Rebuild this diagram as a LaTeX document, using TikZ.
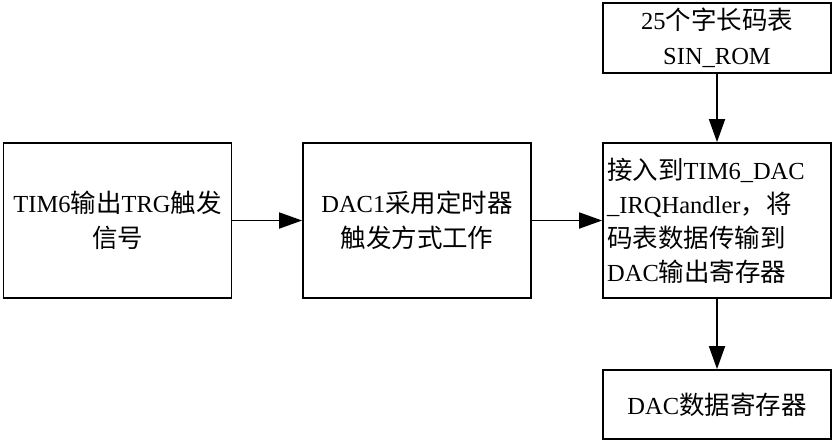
\documentclass[tikz,border=0pt]{standalone}
\usepackage{fontspec}
\setmainfont{Liberation Serif}
\newfontfamily\cjkfont[Scale=1.04]{Noto Sans CJK SC}
\newcommand\zhtxt[1]{{\cjkfont #1}}
\usetikzlibrary{arrows.meta}
\begin{document}
\begin{tikzpicture}[x=1pt,y=-1pt,
  box/.style={draw=black,line width=1.8pt,minimum height=155pt,minimum width=228pt,inner sep=0pt,align=center,
    font=\fontsize{24.5}{35}\selectfont},
  arr/.style={line width=1.8pt,-{Triangle[length=23pt,width=16pt]}}]
\useasboundingbox (0,0) rectangle (834,442);
\node[box] (b1) at (117.5,220.5) {TIM6\zhtxt{输出}TRG\zhtxt{触发}\\\zhtxt{信号}};
\node[box] (b2) at (417,220.5) {DAC1\zhtxt{采用定时器}\\\zhtxt{触发方式工作}};
\node[box] (b3) at (717,220.5) {};
\node[anchor=west,inner sep=0pt,align=left,font=\fontsize{24.5}{34}\selectfont] (t3) at (607,221)
  {\zhtxt{接入到}TIM6\_DAC\\\_IRQHandler\zhtxt{，将}\\\zhtxt{码表数据传输到}\\DAC\zhtxt{输出寄存器}};
\node[box,minimum height=70pt] (top) at (717,38) {25\zhtxt{个字长码表}\\SIN\_ROM};
\node[box,minimum height=69pt] (bot) at (717,404.5) {DAC\zhtxt{数据寄存器}};
\draw[arr] (b1) -- (b2);
\draw[arr] (b2) -- (b3);
\draw[arr] (top) -- (b3);
\draw[arr] (b3) -- (bot);
\end{tikzpicture}
\end{document}
